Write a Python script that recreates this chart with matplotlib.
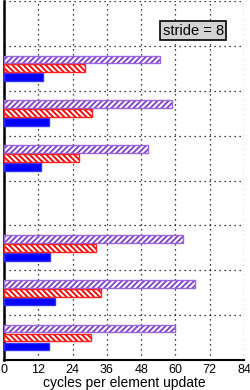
import numpy as np
import matplotlib
matplotlib.use("Agg")
import matplotlib.pyplot as plt

plt.rcParams['font.family'] = ['Liberation Sans', 'DejaVu Sans']
plt.rcParams['hatch.linewidth'] = 1.5

# slots from top to bottom, nan = empty slot
purple = [np.nan, 54.7, 58.9, 50.3, np.nan, 62.8, 66.9, 59.8]
red = [np.nan, 28.5, 30.8, 26.4, np.nan, 32.3, 34.1, 30.4]
blue = [np.nan, 13.7, 15.8, 13.0, np.nan, 16.1, 18.0, 15.6]
xticks = [0, 12, 24, 36, 48, 60, 72, 84]
label = "stride = 8"

n = len(purple)
y = n - np.arange(n) - 0.5
h = 0.17

fig = plt.figure(figsize=(2.51, 3.9), dpi=100)
ax = fig.add_axes([4/251, 30/390, 240/251, 359/390])

# hatched bars: hatch drawn in white, then coloured outline on top
ax.barh(y + 0.2, purple, height=h, color='#8040c8', edgecolor='white', hatch='//////', lw=0, zorder=3)
ax.barh(y + 0.2, purple, height=h, fill=False, edgecolor='#9a66e0', lw=1, zorder=4)
ax.barh(y, red, height=h, color='#ff0000', edgecolor='white', hatch='\\\\\\\\\\\\', lw=0, zorder=3)
ax.barh(y, red, height=h, fill=False, edgecolor='#ff2020', lw=1, zorder=4)
ax.barh(y - 0.2, blue, height=h, color='#0000ff', edgecolor='#3030ff', lw=1, zorder=3)

ax.set_xlim(0, 84)
ax.set_ylim(0, n)
ax.set_xticks(xticks)
ax.set_yticks(np.arange(n + 1))
ax.set_yticklabels([])
ax.tick_params(axis='both', length=0, labelsize=9, pad=3)
ax.grid(True, color='black', linestyle=(0, (1, 3)), lw=0.9, zorder=1)
for s in ['top', 'right']:
    ax.spines[s].set_visible(False)
ax.spines['left'].set_linewidth(1.8)
ax.spines['bottom'].set_linewidth(1.5)
ax.set_xlabel("cycles per element update", fontsize=10, labelpad=0)

ax.text(66.2, 7.34, label, fontsize=10.5, ha='center', va='center', zorder=5,
        bbox=dict(boxstyle='square,pad=0.15', facecolor='#d3d3d3', edgecolor='black', lw=1.2))

fig.savefig("out.png", dpi=100)
